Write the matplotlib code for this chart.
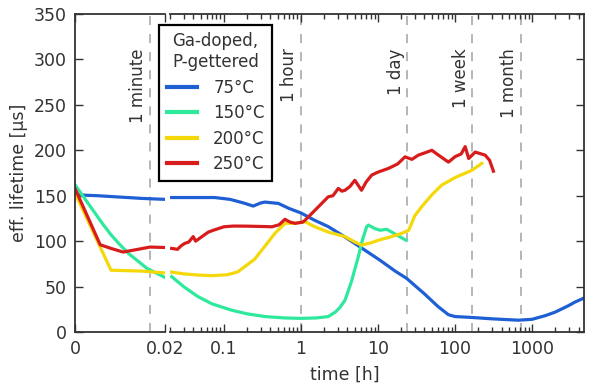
import numpy as np
import matplotlib
matplotlib.use("Agg")
import matplotlib.pyplot as plt

# time axis in hours: linear part 0..0.02, log part 0.02..~4700
t_break = 0.02
x_max = 4700

labels = ["75°C", "150°C", "200°C", "250°C"]
colors = ["#1f5fd4", "#2ee89c", "#f4d80a", "#d81c1c"]

# left (linear) part
blue_l_t = [0, 0.005, 0.01, 0.015, 0.02]
blue_l_y = [151, 150, 148.5, 147, 146]
green_l_t = [0, 0.002, 0.004, 0.006, 0.008, 0.010, 0.012, 0.014, 0.016, 0.018, 0.02]
green_l_y = [162, 148, 134, 120, 107, 96, 86, 78, 70, 65, 60]
yellow_l_t = [0, 0.008, 0.015, 0.02]
yellow_l_y = [153, 68, 67, 65]
red_l_t = [0, 0.0056, 0.008, 0.0107, 0.014, 0.0167, 0.02]
red_l_y = [158, 96, 92, 88, 91, 93.5, 93]

# right (log) part
blue_r_t = [0.021, 0.05, 0.076, 0.12, 0.18, 0.24, 0.3, 0.34, 0.51, 0.7, 1.0, 1.5, 2.26,
            3.5, 5.3, 10.6, 16.7, 23.5, 40, 60, 82, 100, 165, 300, 665, 1000, 1480,
            2000, 2960, 3600, 4600]
blue_r_y = [148, 148, 148, 146, 142, 138.6, 142, 143, 141.5, 136, 131, 123, 116,
            106, 96, 79, 67, 59, 42, 28, 19, 17, 16, 14.5, 13, 14, 18,
            22, 29, 33, 37]
green_r_t = [0.021, 0.03, 0.046, 0.07, 0.126, 0.2, 0.34, 0.6, 1.0, 1.6, 2.26, 2.8, 3.2,
             3.73, 4.5, 5.55, 6.3, 7.13, 7.5, 9, 10.6, 13, 15, 17.5, 20, 23]
green_r_y = [61, 50, 39, 31, 24, 20, 17, 15.5, 15, 15.5, 17, 22, 27,
             35, 55, 83, 102, 116, 117.7, 114, 112, 113, 110, 106.7, 104, 101]
yellow_r_t = [0.021, 0.03, 0.046, 0.07, 0.11, 0.15, 0.187, 0.25, 0.31, 0.46, 0.62, 0.84,
              1.13, 1.5, 2.26, 3.73, 5, 6.1, 8, 10.1, 15, 20.3, 25, 30, 36.9, 50, 67,
              100, 165, 222]
yellow_r_y = [66, 64, 62.7, 62, 63, 66, 72, 80, 90, 108.6, 119.6, 119.6,
              121.4, 116, 110, 105, 99, 95.7, 98, 101, 105, 108.6, 112, 128, 138, 151, 161.7,
              170, 178, 185.6]
red_r_t = [0.021, 0.025, 0.028, 0.031, 0.035, 0.04, 0.043, 0.05, 0.063, 0.073, 0.1, 0.132,
           0.2, 0.36, 0.42, 0.52, 0.62, 0.72, 0.84, 1.06, 1.13, 1.52, 2.26, 2.6, 3.05, 3.4,
           3.73, 4.3, 5.0, 6.1, 7, 8.27, 10, 13.6, 18, 22.4, 27.5, 33.4, 40, 49.9, 60, 82,
           100, 120, 135, 150, 182, 245, 280, 314]
red_r_y = [92, 91, 95, 97.5, 99, 105, 100, 104, 110, 112, 115.8, 116.6,
           116.5, 116, 115.8, 118, 124, 121, 119.6, 121, 123, 134, 148.8, 150, 158, 155,
           156, 160, 167, 156, 165, 172.7, 176, 180, 185, 192.8, 190, 194.7, 197, 200, 195, 187,
           193, 196, 204, 191, 198, 194.7, 189, 177]

left_data = [(blue_l_t, blue_l_y), (green_l_t, green_l_y), (yellow_l_t, yellow_l_y), (red_l_t, red_l_y)]
right_data = [(blue_r_t, blue_r_y), (green_r_t, green_r_y), (yellow_r_t, yellow_r_y), (red_r_t, red_r_y)]

# markers in time (h)
marks_t = [1 / 60, 1, 24, 168, 720]
marks_lbl = ["1 minute", "1 hour", "1 day", "1 week", "1 month"]

W, H = 599, 391
fig = plt.figure(figsize=(W / 100, H / 100), dpi=100)
dark = "#333333"
plt.rcParams["font.family"] = ["DejaVu Sans"]

axL = fig.add_axes([75 / W, (H - 332) / H, 90 / W, 318 / H])
axR = fig.add_axes([170 / W, (H - 332) / H, 414 / W, 318 / H])

handles = []
for (t, y), c in zip(left_data, colors):
    axL.plot(t, y, color=c, lw=2.3)
for (t, y), c, lab in zip(right_data, colors, labels):
    h, = axR.plot(t, y, color=c, lw=2.3, label=lab)
    handles.append(h)

for ax in (axL, axR):
    ax.set_ylim(0, 350)
    for s in ax.spines.values():
        s.set_color(dark)
        s.set_linewidth(1.3)
    ax.tick_params(which="both", direction="in", colors=dark, labelsize=12.5,
                   top=True, width=1.0)
    ax.tick_params(which="major", length=6, pad=6)
    ax.tick_params(which="minor", length=3.5)

axL.set_xlim(0, t_break)
axL.set_xticks([0, 0.02])
axL.set_xticklabels(["0", "0.02"])
axL.set_yticks(np.arange(0, 351, 50))
axL.spines["right"].set_visible(False)
axL.tick_params(axis="y", right=False)
axL.set_ylabel("eff. lifetime [µs]", fontsize=12.5, color=dark, labelpad=4)

axR.set_xscale("log")
axR.set_xlim(t_break, x_max)
axR.set_xticks([0.1, 1, 10, 100, 1000])
axR.set_xticklabels(["0.1", "1", "10", "100", "1000"])
axR.set_yticks(np.arange(0, 351, 50))
axR.spines["left"].set_visible(False)
axR.tick_params(axis="y", left=False, labelleft=False, right=True)

fig.text(345 / W, 1 - 375 / H, "time [h]", ha="center", va="center",
         fontsize=12.5, color=dark)

for tm, lbl in zip(marks_t, marks_lbl):
    ax = axL if tm < t_break else axR
    ax.axvline(tm, color="#b0b0b0", lw=1.3, dashes=(5, 5), zorder=0)
    ax.annotate(lbl, xy=(tm, 312), xytext=(-2, 0), textcoords="offset points",
                rotation=90, ha="right", va="top", fontsize=12, color=dark)

leg = fig.legend(handles, labels, title="Ga-doped,\nP-gettered", loc="upper left",
                 bbox_to_anchor=(159 / W, 1 - 25 / H), bbox_transform=fig.transFigure,
                 borderaxespad=0, fontsize=12, title_fontsize=12, fancybox=False,
                 framealpha=1, edgecolor="black", handlelength=1.8, handletextpad=1.0,
                 labelspacing=0.45, borderpad=0.45)
leg.get_frame().set_linewidth(1.6)
for line in leg.get_lines():
    line.set_linewidth(3)
for txt in leg.get_texts():
    txt.set_color(dark)
leg.get_title().set_color(dark)

fig.savefig("out.png", dpi=100)
